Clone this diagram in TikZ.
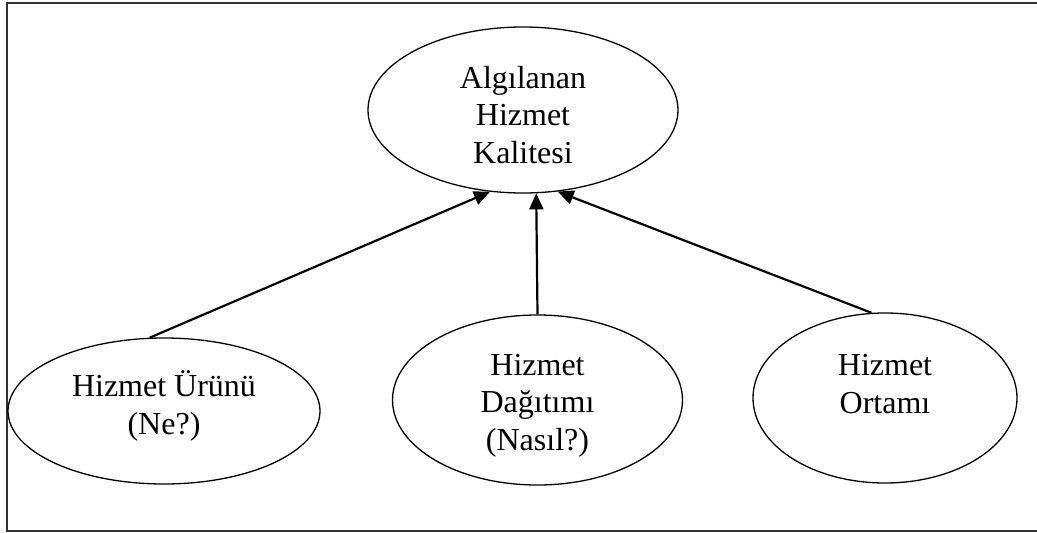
\documentclass[tikz,border=0pt]{standalone}
\usepackage{fontspec}
\setmainfont{Liberation Serif}
\usetikzlibrary{shapes.geometric,arrows.meta}
% centred lines of text, moved up or down without changing the box size
\newcommand\ovaltext[2]{\raisebox{#1}[\height][\depth]{\begin{tabular}{@{}c@{}}#2\end{tabular}}}
\begin{document}
\begin{tikzpicture}[x=1pt,y=-1pt,
  oval/.style={ellipse,draw,line width=1.3pt,inner sep=0pt,
    font=\fontsize{32}{37.5}\selectfont},
  link/.style={line width=2.2pt,-{Triangle[length=16pt,width=14pt]}}]
  \useasboundingbox (0,0) rectangle (1037,533);
  \clip (0,0) rectangle (1037,533);
  % outer frame
  \draw[line width=1.6pt,black!80] (7,3) rectangle (1050,531);
  % ellipses
  \node[oval,minimum width=310pt,minimum height=166pt] (T) at (523,110)
    {\ovaltext{-8pt}{Algılanan\\Hizmet\\Kalitesi}};
  \node[oval,minimum width=312pt,minimum height=146pt] (L) at (164,411)
    {\ovaltext{3pt}{Hizmet Ürünü\\(Ne?)}};
  \node[oval,minimum width=290pt,minimum height=170pt] (M) at (537.5,400)
    {\ovaltext{-5pt}{Hizmet\\Dağıtımı\\(Nasıl?)}};
  \node[oval,minimum width=264pt,minimum height=170pt] (R) at (885,398)
    {\ovaltext{11pt}{Hizmet\\Ortamı}};
  % connectors
  \draw[link] (L.101) -- (T.248);
  \draw[link] (M.north) -- (T.279.6);
  \draw[link] (R.99) -- (T.293);
\end{tikzpicture}
\end{document}
